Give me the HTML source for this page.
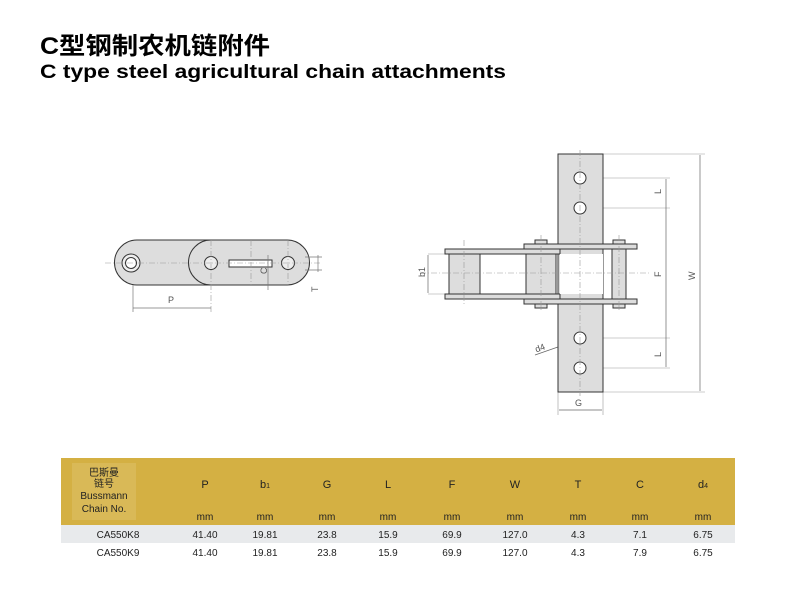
<!DOCTYPE html>
<html><head><meta charset="utf-8"><style>
body{margin:0;background:#fff;}
svg{display:block}
text{font-family:"Liberation Sans","Noto Sans CJK SC",sans-serif;}
</style></head><body>
<svg width="800" height="613" viewBox="0 0 800 613" xmlns="http://www.w3.org/2000/svg">
<text x="40" y="54" font-size="24" font-weight="bold" textLength="230" lengthAdjust="spacingAndGlyphs">C型钢制农机链附件</text>
<text x="40" y="78" font-size="19" font-weight="bold" textLength="466" lengthAdjust="spacingAndGlyphs">C type steel agricultural chain attachments</text>

<!-- left drawing -->
<g stroke="#333" stroke-width="1" fill="#ddd">
<path d="M137,240 H211 A22.5,22.5 0 0 1 211,285 H137 A22.5,22.5 0 0 1 137,240Z"/>
<path d="M211,240 H287 A22.5,22.5 0 0 1 287,285 H211 A22.5,22.5 0 0 1 211,240Z"/>
<circle cx="131" cy="263" r="9" fill="#eee"/><circle cx="131" cy="263" r="5.5" fill="#fff"/>
<circle cx="211" cy="263" r="6.5" fill="#eee"/>
<circle cx="288" cy="263" r="6.5" fill="#eee"/>
<rect x="229" y="260" width="43" height="7" fill="#fff"/>
</g>
<g stroke="#999" stroke-width="0.6" stroke-dasharray="6,2,1,2" fill="none">
<line x1="105" y1="263" x2="322" y2="263"/>
<line x1="211" y1="240" x2="211" y2="312"/><line x1="288" y1="240" x2="288" y2="285"/>
<line x1="251" y1="240" x2="251" y2="285"/>
</g>
<g stroke="#777" stroke-width="0.7">
<line x1="133" y1="285" x2="133" y2="312"/>
<line x1="133" y1="308" x2="211" y2="308"/>
<line x1="268" y1="255" x2="268" y2="290"/>
<line x1="318" y1="255" x2="318" y2="272"/>
<line x1="305" y1="257" x2="322" y2="257"/><line x1="305" y1="270" x2="322" y2="270"/>
</g>
<text x="168" y="303" font-size="9" fill="#555">P</text>
<text x="262" y="275" font-size="9" fill="#555" transform="rotate(-90 264 272)">C</text>
<text x="312" y="292" font-size="9" fill="#555" transform="rotate(-90 315 289)">T</text>

<!-- right drawing -->
<g stroke="#999" stroke-width="0.6" fill="none">
<line x1="603" y1="154" x2="705" y2="154"/><line x1="603" y1="392" x2="705" y2="392"/>
<line x1="580" y1="178" x2="670" y2="178"/><line x1="580" y1="208" x2="670" y2="208"/>
<line x1="580" y1="338" x2="670" y2="338"/><line x1="580" y1="368" x2="670" y2="368"/>
<line x1="558" y1="392" x2="558" y2="415"/><line x1="603" y1="392" x2="603" y2="415"/>
<line x1="428" y1="254" x2="445" y2="254"/><line x1="428" y1="294" x2="445" y2="294"/>
</g>
<g stroke="#666" stroke-width="0.7">
<line x1="700" y1="155" x2="700" y2="391"/>
<line x1="666" y1="179" x2="666" y2="367"/>
<line x1="559" y1="410" x2="602" y2="410"/>
<line x1="428" y1="255" x2="428" y2="293"/>
<line x1="535" y1="355" x2="598" y2="333"/>
</g>
<rect x="558" y="154" width="45" height="238" fill="#ddd" stroke="#333"/>
<g stroke="#333" fill="#ddd">
<rect x="524" y="244" width="113" height="5"/><rect x="524" y="299" width="113" height="5"/>
<rect x="445" y="249" width="115" height="5"/><rect x="445" y="294" width="115" height="5"/>
<rect x="449" y="254" width="31" height="40"/>
<rect x="526" y="254" width="30" height="40"/>
<rect x="560" y="254" width="43" height="40" fill="#fff" stroke="none"/>
<rect x="612" y="249" width="14" height="50"/>
<rect x="535" y="240" width="12" height="4"/><rect x="535" y="304" width="12" height="4"/>
<rect x="613" y="240" width="12" height="4"/><rect x="613" y="304" width="12" height="4"/>
</g>
<g stroke="#333" fill="#fff">
<circle cx="580" cy="178" r="6"/><circle cx="580" cy="208" r="6"/>
<circle cx="580" cy="338" r="6"/><circle cx="580" cy="368" r="6"/>
</g>
<g stroke="#999" stroke-width="0.6" stroke-dasharray="6,2,1,2" fill="none">
<line x1="580" y1="150" x2="580" y2="396"/>
<line x1="420" y1="273" x2="650" y2="273"/>
<line x1="464" y1="240" x2="464" y2="305"/><line x1="541" y1="235" x2="541" y2="312"/><line x1="619" y1="235" x2="619" y2="312"/>
</g>
<g font-size="9" fill="#555">
<text x="656" y="191" transform="rotate(-90 660 190)">L</text>
<text x="656" y="354" transform="rotate(-90 660 353)">L</text>
<text x="655" y="275" transform="rotate(-90 659 273)">F</text>
<text x="689" y="278" transform="rotate(-90 693 276)">W</text>
<text x="575" y="406">G</text>
<text x="418" y="276" transform="rotate(-90 422 273)">b1</text>
<text x="535" y="351" transform="rotate(-20 540 348)">d4</text>
</g>

<!-- table -->
<rect x="61" y="458" width="674" height="67" fill="#d4b043"/>
<rect x="72" y="463" width="64" height="57" fill="#d9b957"/>
<rect x="61" y="525" width="674" height="18" fill="#e8eaec"/>
<g font-size="10" fill="#222" text-anchor="middle">
<text x="104" y="476">巴斯曼</text><text x="104" y="487">链号</text>
<text x="104" y="499">Bussmann</text><text x="104" y="512">Chain No.</text>
<g font-size="11">
<text x="205" y="488">P</text><text x="265" y="488">b<tspan font-size="7">1</tspan></text><text x="327" y="488">G</text><text x="388" y="488">L</text><text x="452" y="488">F</text><text x="515" y="488">W</text><text x="578" y="488">T</text><text x="640" y="488">C</text><text x="703" y="488">d<tspan font-size="7">4</tspan></text>
</g>
<text x="205" y="520">mm</text><text x="265" y="520">mm</text><text x="327" y="520">mm</text><text x="388" y="520">mm</text><text x="452" y="520">mm</text><text x="515" y="520">mm</text><text x="578" y="520">mm</text><text x="640" y="520">mm</text><text x="703" y="520">mm</text>
<text x="118" y="538">CA550K8</text><text x="205" y="538">41.40</text><text x="265" y="538">19.81</text><text x="327" y="538">23.8</text><text x="388" y="538">15.9</text><text x="452" y="538">69.9</text><text x="515" y="538">127.0</text><text x="578" y="538">4.3</text><text x="640" y="538">7.1</text><text x="703" y="538">6.75</text>
<text x="118" y="556">CA550K9</text><text x="205" y="556">41.40</text><text x="265" y="556">19.81</text><text x="327" y="556">23.8</text><text x="388" y="556">15.9</text><text x="452" y="556">69.9</text><text x="515" y="556">127.0</text><text x="578" y="556">4.3</text><text x="640" y="556">7.9</text><text x="703" y="556">6.75</text>
</g>
</svg>
</body></html>
